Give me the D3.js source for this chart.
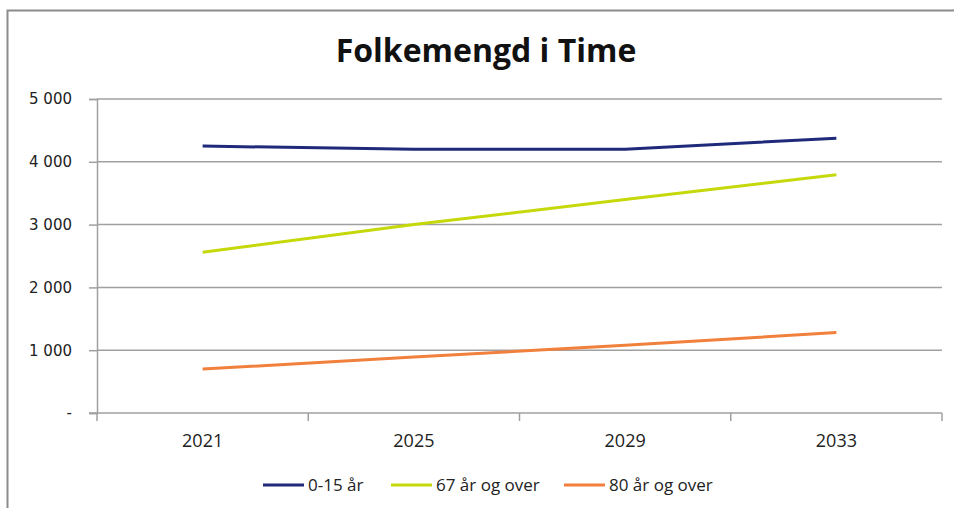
<!DOCTYPE html>
<html>
<head>
<meta charset="utf-8">
<script src="https://cdn.jsdelivr.net/npm/d3@7"></script>
<style>
  body { margin: 0; background: #fff; }
  svg { display: block; }
</style>
</head>
<body>
<svg id="chart" width="954" height="508"></svg>
<script>
// data
const years = ['2021', '2025', '2029', '2033']
const young = [4250, 4200, 4200, 4375]      // 0-15 år
const old67 = [2560, 3000, 3400, 3795]      // 67 år og over
const old80 = [700, 890, 1080, 1280]        // 80 år og over
const seriesNames = ['0-15 år', '67 år og over', '80 år og over']
const seriesColors = ['#1f2a7a', '#c5d80a', '#f0803c']
const yTicks = [0, 1000, 2000, 3000, 4000, 5000]

const series = [young, old67, old80]

const svg = d3.select('#chart')
const margin = {top: 99, right: 12, bottom: 95, left: 97}
const width = 954 - margin.left - margin.right
const height = 508 - margin.top - margin.bottom

// outer frame (cut off at right/bottom like the reference)
svg.append('rect')
  .attr('x', 7.5).attr('y', 10.5)
  .attr('width', 960).attr('height', 520)
  .attr('fill', 'none')
  .attr('stroke', '#8c8c8c')
  .attr('stroke-width', 2)

svg.append('text')
  .attr('x', 486).attr('y', 62)
  .attr('text-anchor', 'middle')
  .style('font-family', '"Open Sans", sans-serif')
  .style('font-weight', 'bold')
  .style('font-size', '32px')
  .style('fill', '#111')
  .text('Folkemengd i Time')

const g = svg.append('g').attr('transform', `translate(${margin.left},${margin.top})`)

let x = d3.scaleBand().domain(years).range([0, width])
let y = d3.scaleLinear().domain([0, 5000]).range([height, 0])

// gridlines
g.append('g')
  .selectAll('line')
  .data(yTicks.slice(1))
  .enter()
  .append('line')
  .attr('x1', 0).attr('x2', width)
  .attr('y1', d => y(d)).attr('y2', d => y(d))
  .attr('stroke', '#a0a0a0')
  .attr('stroke-width', 1.5)

let fmt = d => d === 0 ? '-' : d3.format(',')(d).replace(/,/g, ' ')

let yAxis = g.append('g')
  .call(d3.axisLeft(y).tickValues(yTicks).tickFormat(fmt).tickSize(8).tickPadding(17))
yAxis.select('.domain').attr('stroke', '#a0a0a0').attr('stroke-width', 1.5)
yAxis.selectAll('.tick line').attr('stroke', '#a0a0a0').attr('stroke-width', 1.5)
yAxis.selectAll('text')
  .style('font-family', '"DejaVu Sans", Verdana, sans-serif')
  .style('font-size', '15px')
  .style('fill', '#222')

let xAxis = g.append('g')
  .attr('transform', `translate(0,${height})`)
  .call(d3.axisBottom(x).tickSize(0).tickPadding(21))
xAxis.select('.domain').remove()
xAxis.selectAll('text')
  .style('font-family', '"Open Sans", sans-serif')
  .style('font-size', '18px')
  .style('fill', '#222')

// x axis line and category boundary ticks
g.append('line')
  .attr('x1', -8).attr('x2', width)
  .attr('y1', height).attr('y2', height)
  .attr('stroke', '#a0a0a0').attr('stroke-width', 1.5)
let bounds = years.map(d => x(d)).concat([width])
g.append('g')
  .selectAll('line')
  .data(bounds)
  .enter()
  .append('line')
  .attr('x1', d => d).attr('x2', d => d)
  .attr('y1', height).attr('y2', height + 8)
  .attr('stroke', '#a0a0a0').attr('stroke-width', 1.5)

// lines
let line = d3.line()
  .x((d, i) => x(years[i]) + x.bandwidth() / 2)
  .y(d => y(d))

series.forEach((s, i) => {
  g.append('path')
    .datum(s)
    .attr('d', line)
    .attr('fill', 'none')
    .attr('stroke', seriesColors[i])
    .attr('stroke-width', 3)
})

// legend
const legendX = [263, 391, 564]
let legend = svg.append('g')
seriesNames.forEach((name, i) => {
  legend.append('line')
    .attr('x1', legendX[i]).attr('x2', legendX[i] + 41)
    .attr('y1', 485).attr('y2', 485)
    .attr('stroke', seriesColors[i])
    .attr('stroke-width', 3)
  legend.append('text')
    .attr('x', legendX[i] + 45).attr('y', 491)
    .style('font-family', '"Open Sans", sans-serif')
    .style('font-size', '17px')
    .style('fill', '#222')
    .text(name)
})
</script>
</body>
</html>
